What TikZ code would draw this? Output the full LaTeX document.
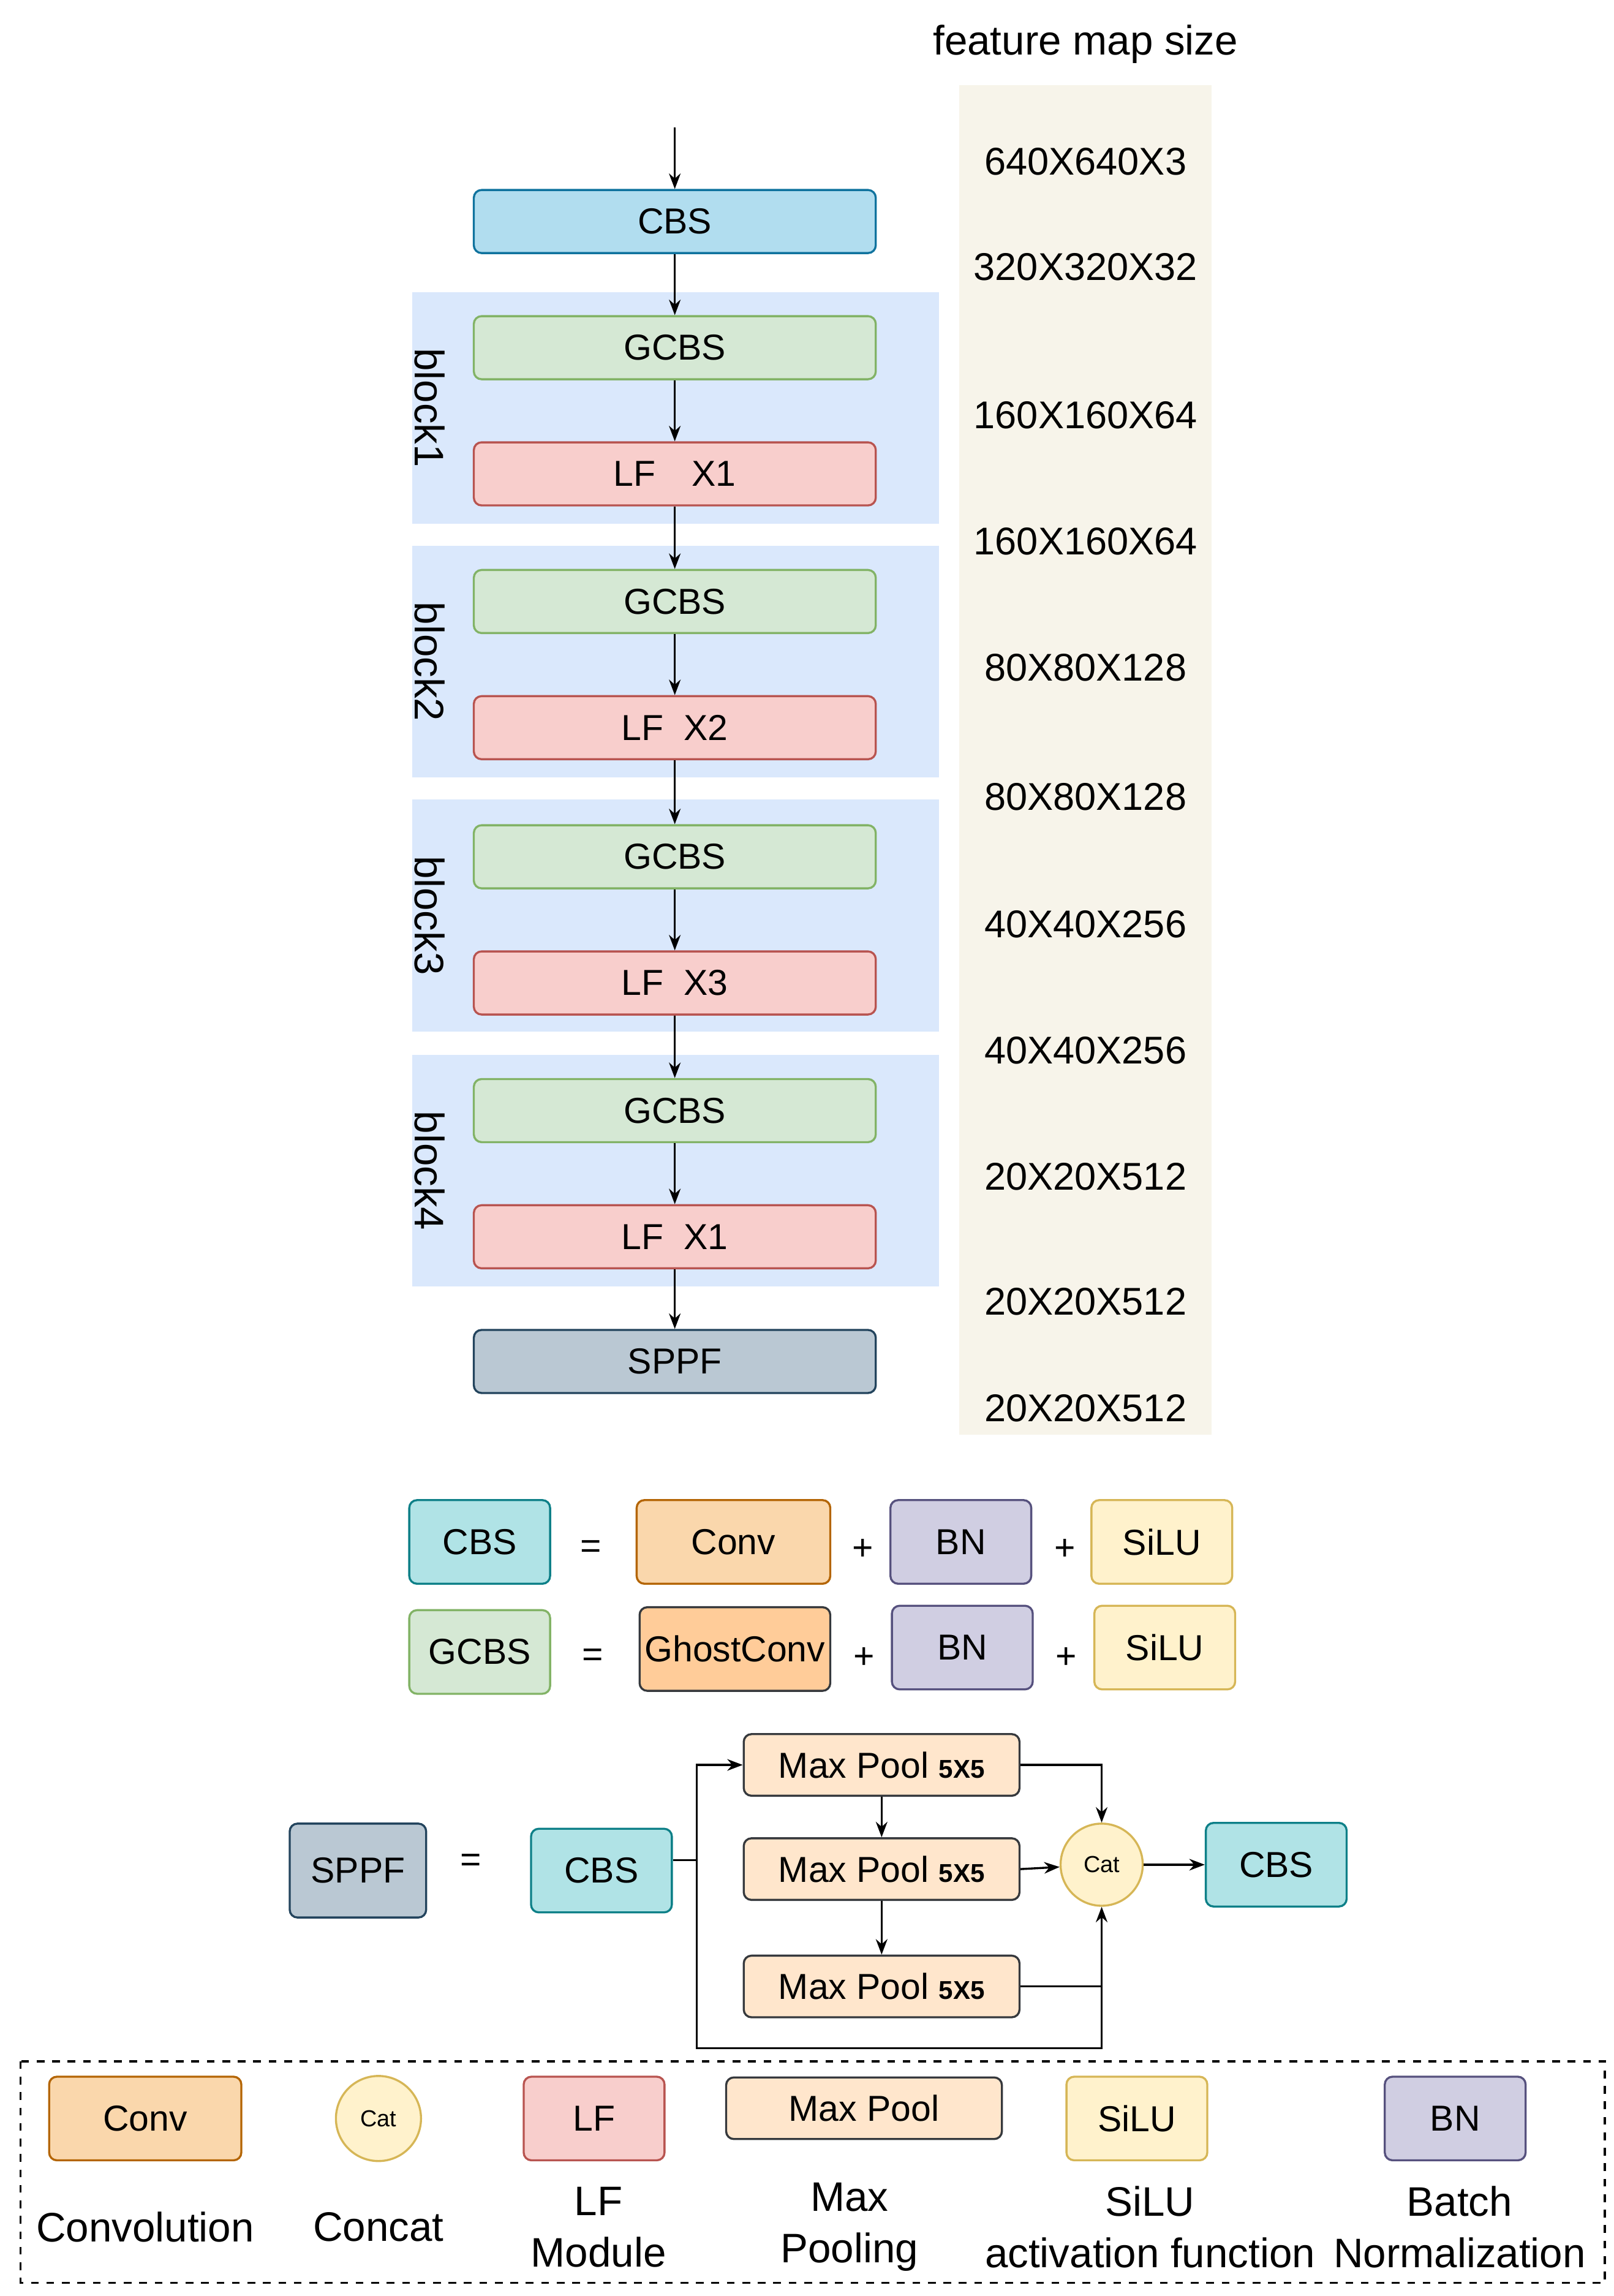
\documentclass[tikz,border=0pt]{standalone}
\usepackage{fontspec}
\setmainfont{Liberation Sans}
\usetikzlibrary{positioning,arrows.meta}
\definecolor{beige}{HTML}{F7F4EA}
\definecolor{blockbg}{HTML}{DAE8FC}
\definecolor{cbsfill}{HTML}{B1DDEF}\definecolor{cbsdraw}{HTML}{10739E}
\definecolor{gfill}{HTML}{D5E8D4}\definecolor{gdraw}{HTML}{82B366}
\definecolor{lffill}{HTML}{F8CECC}\definecolor{lfdraw}{HTML}{B85450}
\definecolor{spfill}{HTML}{BAC8D3}\definecolor{spdraw}{HTML}{23445D}
\definecolor{tfill}{HTML}{B0E3E6}\definecolor{tdraw}{HTML}{0E8088}
\definecolor{cfill}{HTML}{FAD7AC}\definecolor{cdraw}{HTML}{B46504}
\definecolor{bnfill}{HTML}{D0CEE2}\definecolor{bndraw}{HTML}{56517E}
\definecolor{sfill}{HTML}{FFF2CC}\definecolor{sdraw}{HTML}{D6B656}
\definecolor{ghfill}{HTML}{FFCC99}\definecolor{mpfill}{HTML}{FFE6CC}\definecolor{dk}{HTML}{36393D}
\begin{document}
\begin{tikzpicture}[x=0.02cm,y=-0.02cm,font=\fontsize{14}{17}\selectfont]
    % Define styles
    \tikzstyle{box} = [rectangle, rounded corners=3pt, thick, inner sep=0pt, text centered]
    \tikzstyle{main} = [box, minimum width=274*0.02cm, minimum height=43*0.02cm]
    \tikzstyle{legend} = [box, minimum width=96*0.02cm, minimum height=57*0.02cm]
    \tikzstyle{pool} = [box, fill=mpfill, draw=dk, minimum width=188*0.02cm, minimum height=42*0.02cm]
    \tikzstyle{cat} = [circle, thick, fill=sfill, draw=sdraw, minimum size=56*0.02cm, inner sep=0pt, font=\fontsize{9}{10}\selectfont]
    \tikzstyle{label} = [font=\fontsize{16}{20}\selectfont]
    \tikzstyle{arrow} = [thick,-{Stealth[length=6pt]}]
    \useasboundingbox (0,0) rectangle (1100,1565);

    % Backbone
    \fill[beige] (654,58) rectangle (826,978);
    \node[label] at (740,30) {feature map size};
    \foreach \s/\y in {640X640X3/110,320X320X32/182,160X160X64/283,160X160X64/369,80X80X128/455,80X80X128/543,40X40X256/630,40X40X256/716,20X20X512/802,20X20X512/887,20X20X512/960}
        \node[font=\fontsize{15}{18}\selectfont] at (740,\y) {\s};
    \foreach \i/\a/\b in {1/199/357,2/372/530,3/545/703,4/719/877}{
        \fill[blockbg] (281,\a) rectangle (640,\b);
        \node[label, rotate=-90] at (293,{(\a+\b)/2}) {block\i};
    }
    \coordinate (input) at (460,87);
    \node (cbs) [main, fill=cbsfill, draw=cbsdraw] at (460,151) {CBS};
    \node (g1) [main, fill=gfill, draw=gdraw] at (460,237) {GCBS};
    \node (lf1) [main, fill=lffill, draw=lfdraw] at (460,323) {LF\quad X1};
    \node (g2) [main, fill=gfill, draw=gdraw] at (460,410) {GCBS};
    \node (lf2) [main, fill=lffill, draw=lfdraw] at (460,496) {LF\ \ X2};
    \node (g3) [main, fill=gfill, draw=gdraw] at (460,584) {GCBS};
    \node (lf3) [main, fill=lffill, draw=lfdraw] at (460,670) {LF\ \ X3};
    \node (g4) [main, fill=gfill, draw=gdraw] at (460,757) {GCBS};
    \node (lf4) [main, fill=lffill, draw=lfdraw] at (460,843) {LF\ \ X1};
    \node (sppf) [main, fill=spfill, draw=spdraw] at (460,928) {SPPF};
    \draw [arrow] (input) -- (cbs);
    \foreach \p/\q in {cbs/g1,g1/lf1,lf1/g2,g2/lf2,lf2/g3,g3/lf3,lf3/g4,g4/lf4,lf4/sppf}
        \draw [arrow] (\p) -- (\q);

    % CBS and GCBS
    \node (cbsA) [legend, fill=tfill, draw=tdraw] at (327,1051) {CBS};
    \node at (403,1056) {=};
    \node (convA) [legend, minimum width=132*0.02cm, fill=cfill, draw=cdraw] at (500,1051) {Conv};
    \node at (588,1056) {+};
    \node (bnA) [legend, fill=bnfill, draw=bndraw] at (655,1051) {BN};
    \node at (726,1056) {+};
    \node (siluA) [legend, fill=sfill, draw=sdraw] at (792,1051) {SiLU};
    \node (gcbsB) [legend, fill=gfill, draw=gdraw] at (327,1126) {GCBS};
    \node at (404,1130) {=};
    \node (ghostB) [legend, minimum width=130*0.02cm, fill=ghfill, draw=dk] at (501,1124) {GhostConv};
    \node at (589,1130) {+};
    \node (bnB) [legend, fill=bnfill, draw=bndraw] at (656,1123) {BN};
    \node at (727,1130) {+};
    \node (siluB) [legend, fill=sfill, draw=sdraw] at (794,1123) {SiLU};

    % SPPF
    \node (sppfA) [legend, minimum width=93*0.02cm, minimum height=64*0.02cm, fill=spfill, draw=spdraw] at (244,1275) {SPPF};
    \node at (321,1270) {=};
    \node (cbsin) [legend, fill=tfill, draw=tdraw] at (410,1275) {CBS};
    \node (mp1) [pool] at (601,1203) {Max Pool \textbf{\fontsize{10}{11}\selectfont 5X5}};
    \node (mp2) [pool] at (601,1274) {Max Pool \textbf{\fontsize{10}{11}\selectfont 5X5}};
    \node (mp3) [pool] at (601,1354) {Max Pool \textbf{\fontsize{10}{11}\selectfont 5X5}};
    \node (cat) [cat] at (751,1271) {Cat};
    \node (cbsout) [legend, fill=tfill, draw=tdraw] at (870,1271) {CBS};
    \coordinate (split) at (475,1268);
    \draw [thick] (cbsin.east |- split) -- (split);
    \draw [arrow] (split) |- (mp1);
    \draw [arrow] (split) |- (475,1396) -| (cat);
    \draw [thick] (mp3.east) -| (751,1354);
    \draw [arrow] (mp1.east) -| (cat.north);
    \draw [arrow] (mp1) -- (mp2);
    \draw [arrow] (mp2) -- (mp3);
    \draw [arrow] (mp2.east) -- (cat);
    \draw [arrow] (cat) -- (cbsout);

    % Legend
    \draw [dashed, thick] (14,1405) rectangle (1094,1556);
    \node (lconv) [legend, minimum width=131*0.02cm, fill=cfill, draw=cdraw] at (99,1444) {Conv};
    \node (lcat) [cat, minimum size=58*0.02cm] at (258,1444) {Cat};
    \node (llf) [legend, fill=lffill, draw=lfdraw] at (405,1444) {LF};
    \node (lmp) [pool, minimum height=42*0.02cm] at (589,1437) {Max Pool};
    \node (lsilu) [legend, fill=sfill, draw=sdraw] at (775,1444) {SiLU};
    \node (lbn) [legend, fill=bnfill, draw=bndraw] at (992,1444) {BN};
    \node[label] at (99,1518) {Convolution};
    \node[label] at (258,1518) {Concat};
    \node [label, align=center] at (408,1518) {LF\\Module};
    \node [label, align=center] at (579,1518) {Max\\Pooling};
    \node [label, align=center] at (784,1518) {SiLU\\activation function};
    \node [label, align=center] at (995,1518) {Batch\\Normalization};
\end{tikzpicture}
\end{document}
